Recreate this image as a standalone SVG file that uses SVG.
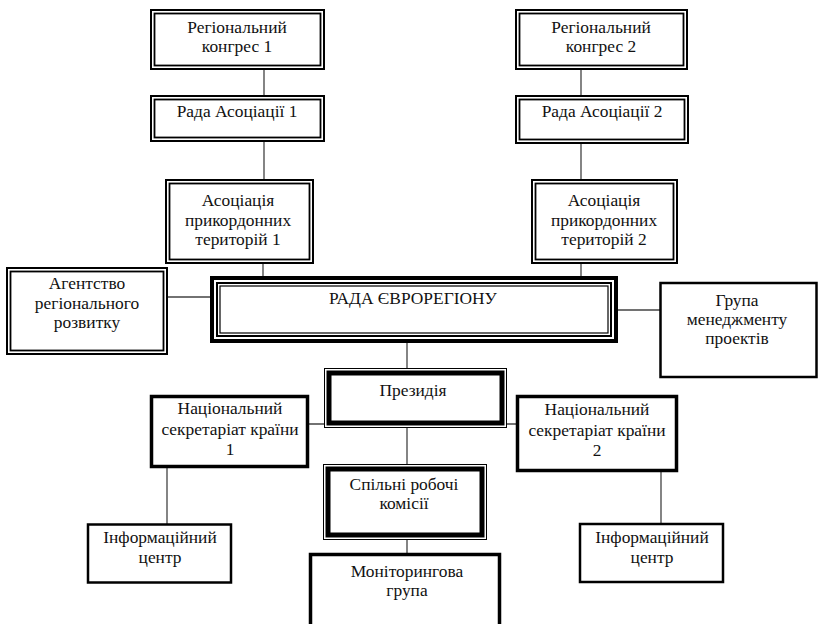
<svg xmlns="http://www.w3.org/2000/svg" width="818" height="624" viewBox="0 0 818 624">
<style>
text{font-family:"Liberation Serif","Times New Roman",serif;font-size:17.4px;fill:#111;text-anchor:middle}
.b{fill:#fff;stroke:#000}
.n{fill:none;stroke:#000}
.c{stroke:#444;stroke-width:1.3;fill:none}
</style>
<rect width="818" height="624" fill="#fff"/>
<g id="connectors">
<path class="c" d="M264 70V96M264 141V180M263 263V277M581 69V96M581 143V180M581 263V277M168 297H211M617 310H660M407 342V369M407 428V464M407 540V554M308 424H517M167 467V524M661 472V524"/>
</g>
<g id="congress1">
<rect class="b" x="151" y="10" width="173" height="59" stroke-width="2"/>
<rect class="n" x="154.5" y="13.5" width="166" height="52" stroke-width="1.8"/>
<text x="237" y="33">Регіональний</text><text x="237" y="52">конгрес 1</text>
</g>
<g id="rada1">
<rect class="b" x="151" y="96" width="173" height="45" stroke-width="2"/>
<rect class="n" x="154.5" y="99.5" width="166" height="38" stroke-width="1.8"/>
<text x="237" y="117">Рада Асоціації 1</text>
</g>
<g id="asoc1">
<rect class="b" x="166" y="180" width="147" height="83" stroke-width="2"/>
<rect class="n" x="169.5" y="183.5" width="140" height="76" stroke-width="1.8"/>
<text x="238" y="206">Асоціація</text><text x="238" y="225.5">прикордонних</text><text x="238" y="245">територій 1</text>
</g>
<g id="congress2">
<rect class="b" x="516" y="10" width="171" height="59" stroke-width="2"/>
<rect class="n" x="519.5" y="13.5" width="164" height="52" stroke-width="1.8"/>
<text x="601" y="33">Регіональний</text><text x="601" y="52">конгрес 2</text>
</g>
<g id="rada2">
<rect class="b" x="516" y="96" width="172" height="47" stroke-width="2"/>
<rect class="n" x="519.5" y="99.5" width="165" height="40" stroke-width="1.8"/>
<text x="602" y="117">Рада Асоціації 2</text>
</g>
<g id="asoc2">
<rect class="b" x="532" y="180" width="145" height="83" stroke-width="2"/>
<rect class="n" x="535.5" y="183.5" width="138" height="76" stroke-width="1.8"/>
<text x="604" y="206">Асоціація</text><text x="604" y="225.5">прикордонних</text><text x="604" y="245">територій 2</text>
</g>
<g id="agency">
<rect class="b" x="7" y="268" width="160" height="86" stroke-width="2"/>
<rect class="n" x="10.5" y="271.5" width="153" height="79" stroke-width="1.8"/>
<text x="87" y="289">Агентство</text><text x="87" y="308.5">регіонального</text><text x="87" y="328">розвитку</text>
</g>
<g id="euroregion">
<rect class="b" x="212" y="278" width="404" height="63" stroke-width="4"/>
<rect class="n" x="217" y="283" width="394" height="53" stroke-width="2"/>
<rect class="n" x="220" y="286" width="388" height="47" stroke-width="1.2"/>
<text x="413" y="304">РАДА ЄВРОРЕГІОНУ</text>
</g>
<g id="projects">
<rect class="b" x="660.5" y="283" width="156" height="94" stroke-width="2.5"/>
<text x="737" y="306">Група</text><text x="737" y="325">менеджменту</text><text x="737" y="343.5">проектів</text>
</g>
<g id="presidium">
<rect class="b" x="324.5" y="368.5" width="182" height="59" stroke="#555" stroke-width="1"/>
<rect class="n" x="329" y="373" width="173" height="50" stroke-width="5"/>
<text x="413" y="396">Президія</text>
</g>
<g id="natsec1">
<rect class="b" x="151.5" y="396.5" width="156" height="70" stroke-width="3.5"/>
<text x="230" y="414">Національний</text><text x="230" y="434.5">секретаріат країни</text><text x="230" y="455">1</text>
</g>
<g id="natsec2">
<rect class="b" x="517.5" y="396.5" width="159" height="74" stroke-width="3.5"/>
<text x="597" y="415">Національний</text><text x="597" y="435.5">секретаріат країни</text><text x="597" y="456">2</text>
</g>
<g id="commissions">
<rect class="b" x="323.5" y="464.5" width="163" height="75" stroke="#555" stroke-width="1"/>
<rect class="n" x="328" y="469" width="154" height="66" stroke-width="5"/>
<text x="404" y="490">Спільні робочі</text><text x="404" y="508.5">комісії</text>
</g>
<g id="info1">
<rect class="b" x="88" y="524.5" width="143" height="58" stroke-width="2.5"/>
<text x="160" y="543">Інформаційний</text><text x="160" y="563">центр</text>
</g>
<g id="info2">
<rect class="b" x="580" y="524" width="143" height="58" stroke-width="2.5"/>
<text x="652" y="543">Інформаційний</text><text x="652" y="563">центр</text>
</g>
<g id="monitoring">
<rect class="b" x="310.5" y="554.5" width="189" height="72" stroke-width="3.5"/>
<text x="407" y="577">Моніторингова</text><text x="407" y="596">група</text>
</g>
</svg>
